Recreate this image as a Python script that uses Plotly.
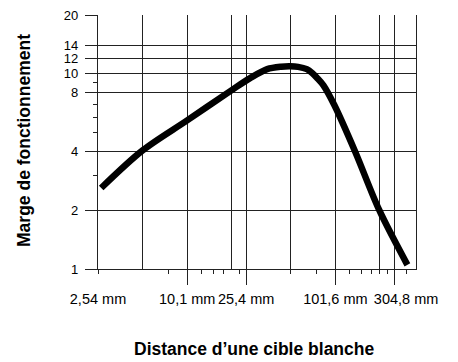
import plotly.graph_objects as go
import math

# Curve data: distance (mm) vs operating margin (excess gain)
dist_mm = [2.67, 5.08, 10.15, 20.3, 27.0, 35.2, 43.7, 50.3, 56.9, 65.2, 70.8, 76.2, 84.4, 100.1, 138, 201, 311]
margin = [2.6, 4.05, 5.77, 8.25, 9.5, 10.56, 10.87, 10.92, 10.85, 10.56, 10.1, 9.55, 8.73, 6.9, 4.0, 2.0, 1.05]

# Axis ticks
x_label_vals = [2.54, 10.16, 25.4, 101.6, 304.8]
x_label_text = ["2,54 mm", "10,1 mm", "25,4 mm", "101,6 mm", "304,8 mm"]
x_grid_vals = [5.08, 10.16, 20.32, 25.4, 50.8, 101.6, 203.2, 254.0]
x_long_ticks = [10.16, 25.4, 101.6, 254.0]
x_minor_ticks = [2.54, 7.62, 12.7, 15.24, 17.78, 22.86, 50.8, 76.2, 127.0, 152.4, 177.8, 203.2, 228.6, 304.8]
x_range_mm = [2.54, 355.6]

y_vals = [1, 2, 4, 8, 10, 12, 14, 20]
y_text = ["1", "2", "4", "8", "10", "12", "14", "20"]
y_minor = [3, 5, 6, 7, 9]
y_range = [1, 20]

x_title = "Distance d\u2019une cible blanche"
y_title = "Marge de fonctionnement"

FONT = "Liberation Sans, Arial, sans-serif"
GRID = "#222222"

xr = [math.log10(v) for v in x_range_mm]
yr = [math.log10(v) for v in y_range]

fig = go.Figure()
fig.add_trace(go.Scatter(
    x=dist_mm, y=margin, mode="lines",
    line=dict(color="black", width=6.5, shape="spline", smoothing=0.9),
    showlegend=False, hoverinfo="skip",
))
# invisible copies so the overlay axes (long ticks, labels) are drawn
for ax in ("x2", "x3"):
    fig.add_trace(go.Scatter(
        x=dist_mm, y=margin, xaxis=ax, yaxis="y", mode="lines",
        line=dict(color="rgba(0,0,0,0)", width=0), opacity=0,
        showlegend=False, hoverinfo="skip",
    ))

fig.update_layout(
    width=458, height=362,
    margin=dict(l=98, r=42, t=15, b=93),
    paper_bgcolor="white", plot_bgcolor="white",
    font=dict(family=FONT, size=15, color="black"),
    xaxis=dict(
        type="log", range=xr, tickvals=x_grid_vals, showticklabels=False,
        ticks="", showgrid=True, gridcolor=GRID, gridwidth=1,
        showline=True, linecolor=GRID, linewidth=1.2, mirror=False,
        zeroline=False, automargin=False,
        minor=dict(tickvals=x_minor_ticks, ticks="outside", ticklen=4,
                   tickcolor=GRID, tickwidth=1, showgrid=False),
    ),
    xaxis2=dict(
        type="log", range=xr, overlaying="x", anchor="y", side="bottom",
        tickvals=x_long_ticks, showticklabels=False, ticks="outside",
        ticklen=15, tickcolor=GRID, tickwidth=1.2, showgrid=False,
        showline=False, zeroline=False, automargin=False,
    ),
    xaxis3=dict(
        type="log", range=xr, overlaying="x", anchor="y", side="bottom",
        tickvals=x_label_vals, ticktext=x_label_text, ticks="", tickangle=0,
        ticklabelstandoff=19, showgrid=False, showline=False, zeroline=False,
        automargin=False,
        tickfont=dict(family=FONT, size=14.5, color="black"),
    ),
    yaxis=dict(
        type="log", range=yr, tickvals=y_vals, ticktext=y_text,
        ticks="outside", ticklen=12, tickcolor=GRID, tickwidth=1.2,
        showgrid=True, gridcolor=GRID, gridwidth=1,
        showline=True, linecolor=GRID, linewidth=1.2, mirror=True,
        zeroline=False, ticklabelstandoff=4, automargin=False,
        tickfont=dict(family=FONT, size=13, color="black"),
        minor=dict(tickvals=y_minor, ticks="outside", ticklen=4,
                   tickcolor=GRID, tickwidth=1, showgrid=False),
    ),
    annotations=[
        dict(text="<b>" + x_title + "</b>", xref="paper", yref="paper",
             x=0.49, y=-0.315, xanchor="center", yanchor="middle",
             showarrow=False, font=dict(family=FONT, size=17.5, color="black")),
        dict(text="<b>" + y_title + "</b>", xref="paper", yref="paper",
             x=-0.232, y=0.505, xanchor="center", yanchor="middle", textangle=-90,
             showarrow=False, font=dict(family=FONT, size=17.5, color="black")),
    ],
)

fig.write_html("out.html", config={"displayModeBar": False},
               post_script="document.body.style.margin='0px';")
